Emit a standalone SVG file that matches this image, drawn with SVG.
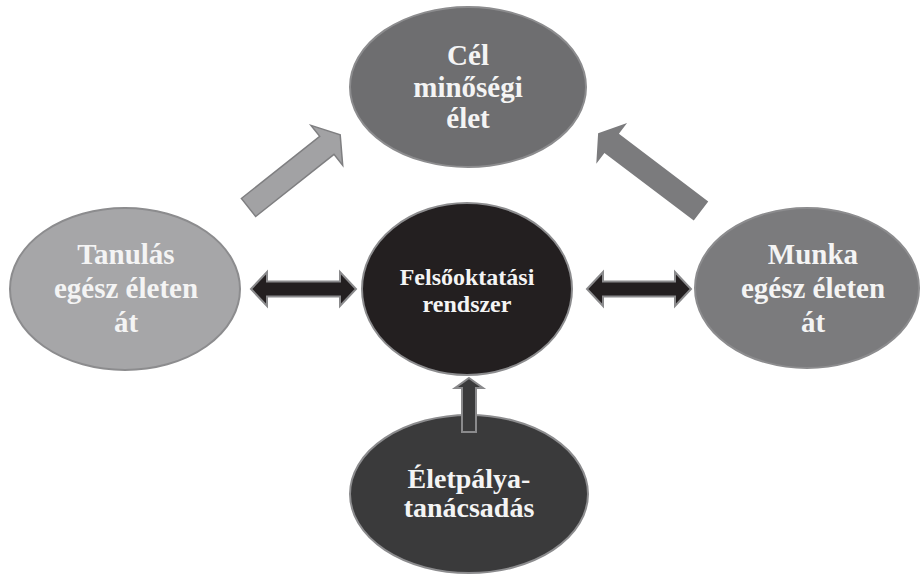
<svg xmlns="http://www.w3.org/2000/svg" width="921" height="575" viewBox="0 0 921 575">
<style>
.node{stroke:#8c8c8e;stroke-width:2}
.t{font-family:"Liberation Serif","Times New Roman",serif;font-weight:bold;fill:#f4f4f4;text-anchor:middle}
.big{font-size:29px}
.bot{font-size:28px}
.mid{font-size:24px}
.dbl{fill:#231f20;stroke:#8a8a8c;stroke-width:2}
</style>
<rect width="921" height="575" fill="#ffffff"/>
<g id="node-cel">
<ellipse class="node" cx="468" cy="87" rx="118" ry="80" fill="#6e6e70"/>
<text class="t big" x="468" y="65">Cél</text>
<text class="t big" x="468" y="97">minőségi</text>
<text class="t big" x="468" y="128">élet</text>
</g>
<g id="node-tanulas">
<ellipse class="node" cx="125" cy="289" rx="115" ry="81" fill="#a6a6a8"/>
<text class="t big" x="126" y="264">Tanulás</text>
<text class="t big" x="126" y="298">egész életen</text>
<text class="t big" x="126" y="332">át</text>
</g>
<g id="node-munka">
<ellipse class="node" cx="807" cy="288" rx="112" ry="80" fill="#7b7b7d"/>
<text class="t big" x="813" y="264">Munka</text>
<text class="t big" x="813" y="298">egész életen</text>
<text class="t big" x="813" y="332">át</text>
</g>
<g id="node-felsooktatasi">
<ellipse class="node" cx="467" cy="289" rx="105" ry="86" fill="#231f20"/>
<text class="t mid" x="467" y="285">Felsőoktatási</text>
<text class="t mid" x="467" y="312">rendszer</text>
</g>
<g id="node-eletpalya">
<ellipse class="node" cx="469" cy="494" rx="119" ry="79" fill="#3a3a3b"/>
<text class="t bot" x="469" y="488">Életpálya-</text>
<text class="t bot" x="469" y="517">tanácsadás</text>
</g>
<g id="connectors">
<polygon transform="translate(248.5,207.5) rotate(-38.4)" points="0,-11.5 100,-11.5 100,-25.5 117,0 100,25.5 100,11.5 0,11.5" fill="#a2a2a4" stroke="#7f7f81" stroke-width="1.5"/>
<polygon transform="translate(701,211) rotate(-142.9)" points="0,-12 112,-12 112,-25.5 129,0 112,25.5 112,12 0,12" fill="#7b7b7d"/>
<polygon class="dbl" points="251,289 267,272 267,281.5 340,281.5 340,272 356,289 340,306 340,296.5 267,296.5 267,306"/>
<polygon class="dbl" points="587,289 603,272 603,281.5 675,281.5 675,272 691,289 675,306 675,296.5 603,296.5 603,306"/>
<polygon points="469,378 483,388 476,388 476,432 462,432 462,388 455,388" fill="#3a3a3b" stroke="#8a8a8c" stroke-width="2"/>
</g>
</svg>
